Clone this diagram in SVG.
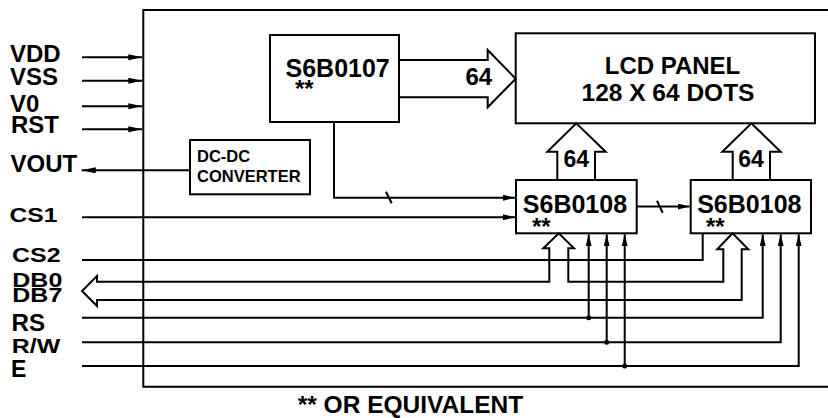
<svg xmlns="http://www.w3.org/2000/svg" width="828" height="418" viewBox="0 0 828 418">
<defs>
<marker id="ah" markerUnits="userSpaceOnUse" markerWidth="15" markerHeight="7" refX="14" refY="3" orient="auto">
<path d="M0,0 L14,3 L0,6 z" fill="#000"/>
</marker>
<marker id="ahs" markerUnits="userSpaceOnUse" markerWidth="13" markerHeight="7" refX="12" refY="3" orient="auto">
<path d="M0,0 L12,3 L0,6 z" fill="#000"/>
</marker>
<style>
text{font-family:"Liberation Sans",Arial,sans-serif;font-weight:bold;fill:#000}
.box{fill:#fff;stroke:#000;stroke-width:2}
.ln{fill:none;stroke:#000;stroke-width:2}
.ar{fill:none;stroke:#000;stroke-width:2;marker-end:url(#ahs)}
.arb{fill:none;stroke:#000;stroke-width:2;marker-end:url(#ah)}
.hol{fill:none;stroke:#000;stroke-width:2;stroke-linejoin:miter}
</style>
</defs>
<rect width="828" height="418" fill="#fff"/>

<g id="frame">
<path class="ln" d="M829,10 H143.3 V386.7 H829"/>
</g>

<g id="pin-labels">
<text x="10" y="61.7" font-size="24">VDD</text>
<text x="10" y="85" font-size="24">VSS</text>
<text x="10" y="111.5" font-size="24">V0</text>
<text x="11" y="133.3" font-size="24">RST</text>
<text x="10.5" y="171.7" font-size="24">VOUT</text>
<text x="9.5" y="221.7" font-size="21" textLength="48" lengthAdjust="spacingAndGlyphs">CS1</text>
<text x="12" y="262" font-size="21" textLength="48.5" lengthAdjust="spacingAndGlyphs">CS2</text>
<text x="12.3" y="286.5" font-size="20" textLength="50" lengthAdjust="spacingAndGlyphs">DB0</text>
<text x="12.3" y="302" font-size="20" textLength="50" lengthAdjust="spacingAndGlyphs">DB7</text>
<text x="11.5" y="330.5" font-size="23" textLength="33.5" lengthAdjust="spacingAndGlyphs">RS</text>
<text x="11.8" y="353.3" font-size="21" textLength="48.5" lengthAdjust="spacingAndGlyphs">R/W</text>
<text x="11" y="376.5" font-size="23">E</text>
</g>

<g id="s6b0107">
<rect class="box" x="270" y="35" width="129" height="87"/>
<text x="285.5" y="77" font-size="25">S6B0107</text>
<text x="295" y="97" font-size="24">**</text>
</g>

<g id="lcd-panel">
<rect class="box" x="515.7" y="33.3" width="299.3" height="90"/>
<text x="672.5" y="74" font-size="24" text-anchor="middle">LCD PANEL</text>
<text x="668" y="100.7" font-size="24.5" text-anchor="middle">128 X 64 DOTS</text>
</g>

<g id="dc-dc-converter">
<rect class="box" x="190" y="140" width="120" height="54.3"/>
<text x="197" y="161.7" font-size="16.5">DC-DC</text>
<text x="197" y="181.7" font-size="16.5">CONVERTER</text>
</g>

<g id="s6b0108-1">
<rect class="box" x="516" y="180" width="120.7" height="53.3"/>
<text x="522.8" y="212.7" font-size="25">S6B0108</text>
<text x="532" y="234.5" font-size="24">**</text>
</g>

<g id="s6b0108-2">
<rect class="box" x="690.7" y="180" width="120.3" height="53.3"/>
<text x="697.2" y="212.7" font-size="25">S6B0108</text>
<text x="706" y="234.5" font-size="24">**</text>
</g>

<g id="connectors">
<line class="arb" x1="82" y1="57.3" x2="142.3" y2="57.3"/>
<line class="arb" x1="82" y1="80.7" x2="142.3" y2="80.7"/>
<line class="arb" x1="82" y1="106.3" x2="142.3" y2="106.3"/>
<line class="arb" x1="82" y1="129.3" x2="142.3" y2="129.3"/>
<line class="arb" x1="190" y1="170.3" x2="81.7" y2="170.3"/>

<!-- S6B0107 to LCD bus arrow -->
<path class="hol" d="M399,60 H487.7 V50 L515.7,78.7 L487.7,107.3 V97.3 H399"/>
<text x="465.5" y="85" font-size="24">64</text>

<!-- S6B0108 to LCD bus arrows -->
<path class="hol" d="M557.3,180 V151.7 H547.3 L576.3,123.3 L605.7,151.7 H595 V180"/>
<text x="576.3" y="166.7" font-size="23" text-anchor="middle">64</text>
<path class="hol" d="M732.7,180 V151.7 H722.3 L751.4,123.3 L780.7,151.7 H770 V180"/>
<text x="751" y="166.7" font-size="23" text-anchor="middle">64</text>

<!-- S6B0107 to S6B0108 -->
<polyline class="ar" points="334,122 334,197.7 515,197.7"/>
<line class="ln" x1="386" y1="191.7" x2="391.7" y2="203.3"/>
<!-- CS1 -->
<line class="ar" x1="82" y1="217.3" x2="515" y2="217.3"/>
<!-- S6B0108 to S6B0108 -->
<line class="ar" x1="636.7" y1="206.5" x2="689.7" y2="206.5"/>
<line class="ln" x1="657" y1="200.7" x2="662.7" y2="212.7"/>
<!-- CS2 -->
<polyline class="ln" points="82,260 702.7,260 702.7,233.3"/>

<!-- data bus DB0-DB7 -->
<path class="hol" d="M549.3,248.3 V281.7 H97 V276 L82,291 L97,306 V300 H741.7 V249.3 H748.3 L732.5,233.3 L717.3,249.3 H723.3 V281.7 H568.3 V248.3 H574 L558.8,233.3 L543.3,248.3 Z"/>

<!-- RS -->
<polyline class="ar" points="82,317.7 762.7,317.7 762.7,234.3"/>
<line class="ar" x1="588.7" y1="317.7" x2="588.7" y2="234.3"/>
<circle cx="588.7" cy="317.7" r="2.5" fill="#000"/>
<!-- R/W -->
<polyline class="ar" points="82,342.3 780.7,342.3 780.7,234.3"/>
<line class="ar" x1="606.7" y1="342.3" x2="606.7" y2="234.3"/>
<circle cx="606.7" cy="342.3" r="2.5" fill="#000"/>
<!-- E -->
<polyline class="ar" points="82,366 798.7,366 798.7,234.3"/>
<line class="ar" x1="624.7" y1="366" x2="624.7" y2="234.3"/>
<circle cx="624.7" cy="366" r="2.5" fill="#000"/>
</g>

<g id="footnote">
<text x="410.5" y="413.3" font-size="24.5" text-anchor="middle">** OR EQUIVALENT</text>
</g>
</svg>
